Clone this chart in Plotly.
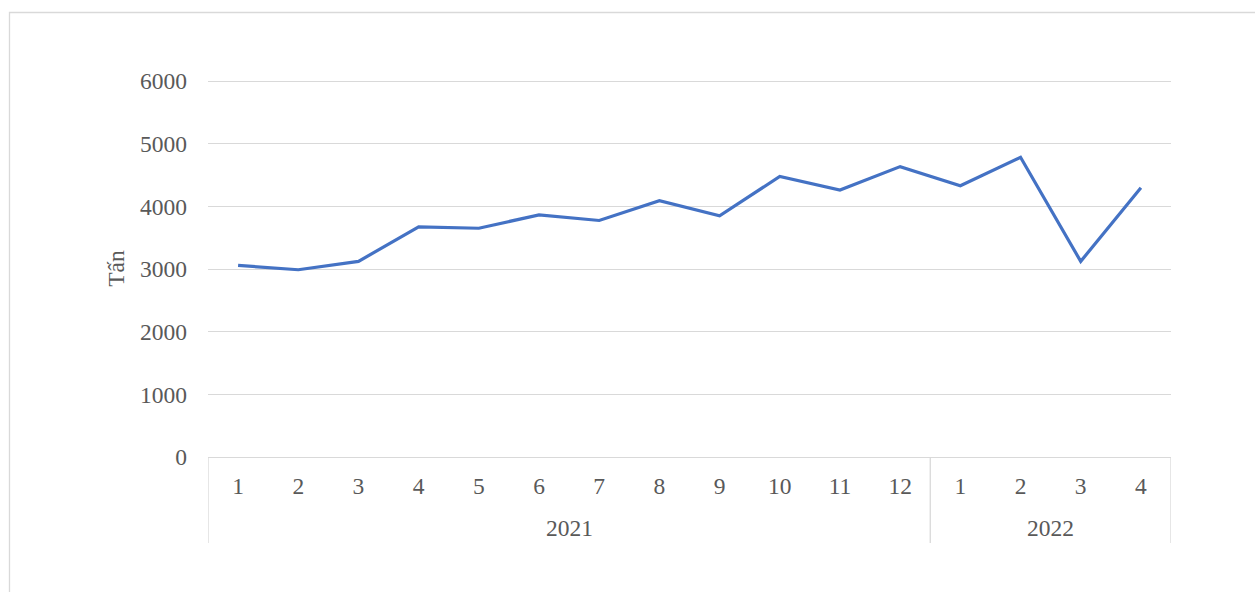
import plotly.graph_objects as go

years = ["2021", "2022"]
year_counts = [12, 4]
months = [str(m) for m in range(1, 13)] + ["1", "2", "3", "4"]
values = [3060, 2990, 3124, 3674, 3653, 3867, 3777, 4092, 3850, 4480,
          4262, 4637, 4332, 4786, 3124, 4300]
y_ticks = [0, 1000, 2000, 3000, 4000, 5000, 6000]

FONT = "Liberation Serif, Times New Roman, serif"
FS = 23.5
GRAY = "#595959"
LINE_GRAY = "#d9d9d9"

TOP, BOT = 80, 135
PLOT_H = 592 - TOP - BOT  # 377
Y_MAX = 6020

def py(px):
    """pixel row -> paper y"""
    return (592 - BOT - px) / PLOT_H

xpos = list(range(len(values)))

fig = go.Figure()
fig.add_trace(go.Scatter(
    x=xpos, y=values, mode="lines",
    line=dict(color="#4472C4", width=3.2),
))

# group boundaries and year labels
shapes = []
annotations = []
start = 0
bounds = [-0.5]
for yr, cnt in zip(years, year_counts):
    center = start + (cnt - 1) / 2
    annotations.append(dict(
        x=center, y=py(528), xref="x", yref="paper",
        text=yr, showarrow=False, yanchor="middle", xanchor="center",
        font=dict(family=FONT, size=FS, color=GRAY),
    ))
    start += cnt
    bounds.append(start - 0.5)
for b in bounds:
    shapes.append(dict(
        type="line", xref="x", yref="paper", x0=b, x1=b,
        y0=0, y1=py(543),
        line=dict(color=LINE_GRAY, width=1.3),
    ))
shapes.append(dict(
    type="rect", xref="paper", yref="paper",
    x0=(9.5 - 208) / 963, x1=1.5,
    y0=-1.0, y1=py(12.5),
    line=dict(color=LINE_GRAY, width=1.3),
    fillcolor="rgba(0,0,0,0)", layer="below",
))

fig.update_layout(
    width=1255, height=592,
    margin=dict(l=208, r=84, t=TOP, b=BOT),
    paper_bgcolor="white", plot_bgcolor="white",
    font=dict(family=FONT, size=FS, color=GRAY),
    showlegend=False,
    xaxis=dict(
        range=[-0.5, len(values) - 0.5],
        tickvals=xpos, ticktext=months,
        showline=True, linecolor=LINE_GRAY, linewidth=1.3,
        showgrid=False, zeroline=False,
        ticks="", ticklabelstandoff=8,
        tickfont=dict(family=FONT, size=FS, color=GRAY),
    ),
    yaxis=dict(
        range=[0, Y_MAX], tickvals=y_ticks,
        showgrid=True, gridcolor=LINE_GRAY, gridwidth=1.3,
        zeroline=False, showline=False,
        ticklabelstandoff=20,
        tickfont=dict(family=FONT, size=FS, color=GRAY),
        title=dict(text="Tấn", standoff=8,
                   font=dict(family=FONT, size=FS, color=GRAY)),
    ),
    shapes=shapes,
    annotations=annotations,
)

fig.write_html("out.html")
